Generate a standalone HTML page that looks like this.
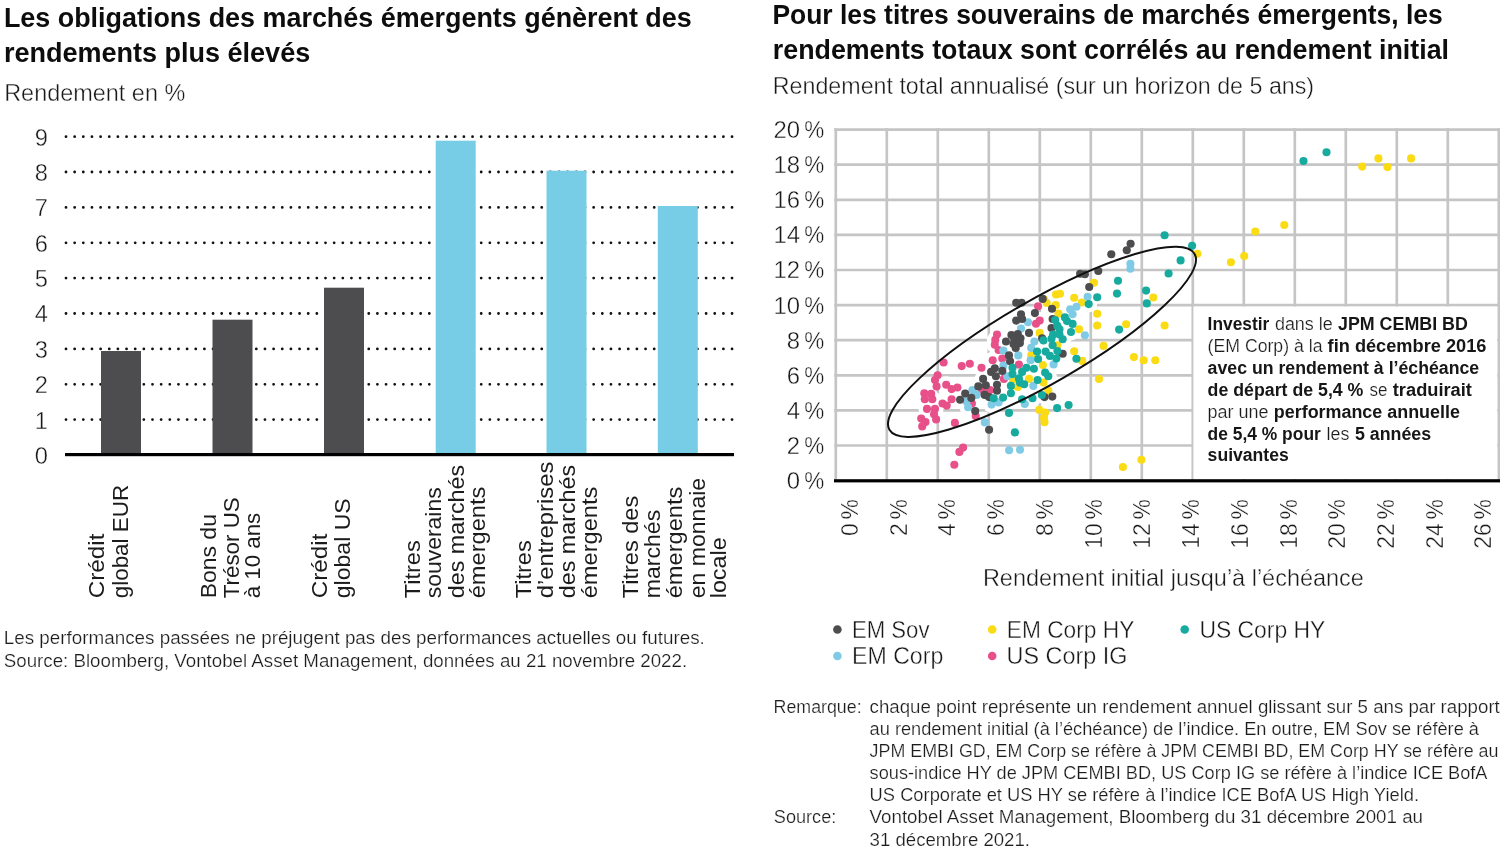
<!DOCTYPE html>
<html lang="fr"><head><meta charset="utf-8"><title>Obligations des marchés émergents</title>
<style>
html,body{margin:0;padding:0;background:#fff;}
body{width:1500px;height:860px;overflow:hidden;font-family:"Liberation Sans",sans-serif;}
svg{display:block}
text{font-family:"Liberation Sans",sans-serif;fill:#1a1a1a}
.t{font-weight:bold;font-size:27.1px;fill:#0d0d0d}
.t2{font-weight:bold;font-size:27.4px;fill:#0d0d0d}
.s{font-size:23.25px;fill:#2b2b2b}
.ax{font-size:23.9px;fill:#222}
.s2{font-size:23.2px;fill:#2b2b2b}
.ay{font-size:23.7px;fill:#222}
.rl{font-size:21.3px;fill:#1c1c1c}
.ft{font-size:17.85px;fill:#2e2e2e}
.an{font-size:18px;fill:#1a1a1a}
.b{font-weight:bold}
.xl{font-size:24.1px;fill:#222}
.lg{font-size:23.8px;fill:#222}
.s,.s2,.ax,.ay,.xl,.lg{stroke:#fff;stroke-width:.38px;fill:#181818}
.ft,.an{stroke:#fff;stroke-width:.22px;fill:#1c1c1c}
.an.b{stroke:none;fill:#161616}
</style></head><body>
<svg width="1500" height="860" viewBox="0 0 1500 860">
<rect width="1500" height="860" fill="#fff"/>

<text x="3.9" y="26.6" class="t" textLength="687.8" lengthAdjust="spacingAndGlyphs">Les obligations des marchés émergents génèrent des</text>
<text x="3.9" y="62.4" class="t" textLength="306.3" lengthAdjust="spacingAndGlyphs">rendements plus élevés</text>
<text x="4.2" y="101.2" class="s" textLength="181.1" lengthAdjust="spacingAndGlyphs">Rendement en %</text>
<text x="48" y="463.9" class="ay" text-anchor="end">0</text>
<text x="48" y="428.5" class="ay" text-anchor="end">1</text>
<line x1="66" x2="734" y1="419.6" y2="419.6" stroke="#111" stroke-width="2.8" stroke-linecap="round" stroke-dasharray="0 8.65"/>
<text x="48" y="393.2" class="ay" text-anchor="end">2</text>
<line x1="66" x2="734" y1="384.3" y2="384.3" stroke="#111" stroke-width="2.8" stroke-linecap="round" stroke-dasharray="0 8.65"/>
<text x="48" y="357.8" class="ay" text-anchor="end">3</text>
<line x1="66" x2="734" y1="348.9" y2="348.9" stroke="#111" stroke-width="2.8" stroke-linecap="round" stroke-dasharray="0 8.65"/>
<text x="48" y="322.4" class="ay" text-anchor="end">4</text>
<line x1="66" x2="734" y1="313.5" y2="313.5" stroke="#111" stroke-width="2.8" stroke-linecap="round" stroke-dasharray="0 8.65"/>
<text x="48" y="287.0" class="ay" text-anchor="end">5</text>
<line x1="66" x2="734" y1="278.1" y2="278.1" stroke="#111" stroke-width="2.8" stroke-linecap="round" stroke-dasharray="0 8.65"/>
<text x="48" y="251.7" class="ay" text-anchor="end">6</text>
<line x1="66" x2="734" y1="242.8" y2="242.8" stroke="#111" stroke-width="2.8" stroke-linecap="round" stroke-dasharray="0 8.65"/>
<text x="48" y="216.3" class="ay" text-anchor="end">7</text>
<line x1="66" x2="734" y1="207.4" y2="207.4" stroke="#111" stroke-width="2.8" stroke-linecap="round" stroke-dasharray="0 8.65"/>
<text x="48" y="180.9" class="ay" text-anchor="end">8</text>
<line x1="66" x2="734" y1="172.0" y2="172.0" stroke="#111" stroke-width="2.8" stroke-linecap="round" stroke-dasharray="0 8.65"/>
<text x="48" y="145.6" class="ay" text-anchor="end">9</text>
<line x1="66" x2="734" y1="136.7" y2="136.7" stroke="#111" stroke-width="2.8" stroke-linecap="round" stroke-dasharray="0 8.65"/>
<rect x="101" y="351" width="40" height="104.0" fill="#4d4d4f"/>
<rect x="212.5" y="319.7" width="40" height="135.3" fill="#4d4d4f"/>
<rect x="324" y="287.7" width="40" height="167.3" fill="#4d4d4f"/>
<rect x="435.7" y="140.7" width="40" height="314.3" fill="#78cde6"/>
<rect x="546.5" y="170.7" width="40" height="284.3" fill="#78cde6"/>
<rect x="657.8" y="206" width="40" height="249.0" fill="#78cde6"/>
<rect x="65" y="453" width="669" height="3.2" fill="#000"/>
<text class="rl" transform="translate(103.7,598.3) rotate(-90)" textLength="64.7" lengthAdjust="spacingAndGlyphs">Crédit</text>
<text class="rl" transform="translate(127.5,598.3) rotate(-90)" textLength="113.5" lengthAdjust="spacingAndGlyphs">global EUR</text>
<text class="rl" transform="translate(215.5,598.3) rotate(-90)" textLength="84.2" lengthAdjust="spacingAndGlyphs">Bons du</text>
<text class="rl" transform="translate(238.7,598.3) rotate(-90)" textLength="101.0" lengthAdjust="spacingAndGlyphs">Trésor US</text>
<text class="rl" transform="translate(260,598.3) rotate(-90)" textLength="85.5" lengthAdjust="spacingAndGlyphs">à 10 ans</text>
<text class="rl" transform="translate(326.5,598.3) rotate(-90)" textLength="64.7" lengthAdjust="spacingAndGlyphs">Crédit</text>
<text class="rl" transform="translate(350,598.3) rotate(-90)" textLength="100.0" lengthAdjust="spacingAndGlyphs">global US</text>
<text class="rl" transform="translate(419.5,598.3) rotate(-90)" textLength="58.0" lengthAdjust="spacingAndGlyphs">Titres</text>
<text class="rl" transform="translate(441,598.3) rotate(-90)" textLength="111.0" lengthAdjust="spacingAndGlyphs">souverains</text>
<text class="rl" transform="translate(463.7,598.3) rotate(-90)" textLength="133.5" lengthAdjust="spacingAndGlyphs">des marchés</text>
<text class="rl" transform="translate(485,598.3) rotate(-90)" textLength="111.7" lengthAdjust="spacingAndGlyphs">émergents</text>
<text class="rl" transform="translate(531.2,598.3) rotate(-90)" textLength="58.0" lengthAdjust="spacingAndGlyphs">Titres</text>
<text class="rl" transform="translate(553,598.3) rotate(-90)" textLength="136.7" lengthAdjust="spacingAndGlyphs">d’entreprises</text>
<text class="rl" transform="translate(575,598.3) rotate(-90)" textLength="133.5" lengthAdjust="spacingAndGlyphs">des marchés</text>
<text class="rl" transform="translate(596.7,598.3) rotate(-90)" textLength="111.7" lengthAdjust="spacingAndGlyphs">émergents</text>
<text class="rl" transform="translate(638.2,598.3) rotate(-90)" textLength="102.5" lengthAdjust="spacingAndGlyphs">Titres des</text>
<text class="rl" transform="translate(660,598.3) rotate(-90)" textLength="88.5" lengthAdjust="spacingAndGlyphs">marchés</text>
<text class="rl" transform="translate(682,598.3) rotate(-90)" textLength="111.7" lengthAdjust="spacingAndGlyphs">émergents</text>
<text class="rl" transform="translate(705,598.3) rotate(-90)" textLength="120.5" lengthAdjust="spacingAndGlyphs">en monnaie</text>
<text class="rl" transform="translate(726.2,598.3) rotate(-90)" textLength="61.0" lengthAdjust="spacingAndGlyphs">locale</text>
<text x="3.8" y="644.4" class="ft" textLength="701.0" lengthAdjust="spacingAndGlyphs">Les performances passées ne préjugent pas des performances actuelles ou futures.</text>
<text x="3.8" y="667.1" class="ft" textLength="683.3" lengthAdjust="spacingAndGlyphs">Source: Bloomberg, Vontobel Asset Management, données au 21 novembre 2022.</text>
<text x="772.4" y="23.6" class="t2" textLength="670.4" lengthAdjust="spacingAndGlyphs">Pour les titres souverains de marchés émergents, les</text>
<text x="772.8" y="58.5" class="t2" textLength="676.2" lengthAdjust="spacingAndGlyphs">rendements totaux sont corrélés au rendement initial</text>
<text x="772.8" y="93.8" class="s" textLength="541.3" lengthAdjust="spacingAndGlyphs">Rendement total annualisé (sur un horizon de 5 ans)</text>
<line x1="835.8" x2="835.8" y1="128.2" y2="481" stroke="#c5c5c5" stroke-width="2.7"/>
<line x1="886.8" x2="886.8" y1="128.2" y2="481" stroke="#c5c5c5" stroke-width="2.7"/>
<line x1="937.8" x2="937.8" y1="128.2" y2="481" stroke="#c5c5c5" stroke-width="2.7"/>
<line x1="988.8" x2="988.8" y1="128.2" y2="481" stroke="#c5c5c5" stroke-width="2.7"/>
<line x1="1039.8" x2="1039.8" y1="128.2" y2="481" stroke="#c5c5c5" stroke-width="2.7"/>
<line x1="1090.8" x2="1090.8" y1="128.2" y2="481" stroke="#c5c5c5" stroke-width="2.7"/>
<line x1="1141.8" x2="1141.8" y1="128.2" y2="481" stroke="#c5c5c5" stroke-width="2.7"/>
<line x1="1192.8" x2="1192.8" y1="128.2" y2="481" stroke="#c5c5c5" stroke-width="2.7"/>
<line x1="1243.8" x2="1243.8" y1="128.2" y2="481" stroke="#c5c5c5" stroke-width="2.7"/>
<line x1="1294.8" x2="1294.8" y1="128.2" y2="481" stroke="#c5c5c5" stroke-width="2.7"/>
<line x1="1345.8" x2="1345.8" y1="128.2" y2="481" stroke="#c5c5c5" stroke-width="2.7"/>
<line x1="1396.8" x2="1396.8" y1="128.2" y2="481" stroke="#c5c5c5" stroke-width="2.7"/>
<line x1="1447.8" x2="1447.8" y1="128.2" y2="481" stroke="#c5c5c5" stroke-width="2.7"/>
<line x1="1498.8" x2="1498.8" y1="128.2" y2="481" stroke="#c5c5c5" stroke-width="2.7"/>
<line x1="834.2" x2="1500" y1="129.6" y2="129.6" stroke="#c5c5c5" stroke-width="2.7"/>
<line x1="834.2" x2="1500" y1="164.7" y2="164.7" stroke="#c5c5c5" stroke-width="2.7"/>
<line x1="834.2" x2="1500" y1="199.8" y2="199.8" stroke="#c5c5c5" stroke-width="2.7"/>
<line x1="834.2" x2="1500" y1="234.9" y2="234.9" stroke="#c5c5c5" stroke-width="2.7"/>
<line x1="834.2" x2="1500" y1="270.0" y2="270.0" stroke="#c5c5c5" stroke-width="2.7"/>
<line x1="834.2" x2="1500" y1="305.1" y2="305.1" stroke="#c5c5c5" stroke-width="2.7"/>
<line x1="834.2" x2="1500" y1="340.2" y2="340.2" stroke="#c5c5c5" stroke-width="2.7"/>
<line x1="834.2" x2="1500" y1="375.3" y2="375.3" stroke="#c5c5c5" stroke-width="2.7"/>
<line x1="834.2" x2="1500" y1="410.4" y2="410.4" stroke="#c5c5c5" stroke-width="2.7"/>
<line x1="834.2" x2="1500" y1="445.5" y2="445.5" stroke="#c5c5c5" stroke-width="2.7"/>
<text class="ax" x="800" y="138.0" text-anchor="end">20</text><text class="ax" x="804.3" y="138.0" textLength="20" lengthAdjust="spacingAndGlyphs">%</text>
<text class="ax" x="800" y="173.1" text-anchor="end">18</text><text class="ax" x="804.3" y="173.1" textLength="20" lengthAdjust="spacingAndGlyphs">%</text>
<text class="ax" x="800" y="208.2" text-anchor="end">16</text><text class="ax" x="804.3" y="208.2" textLength="20" lengthAdjust="spacingAndGlyphs">%</text>
<text class="ax" x="800" y="243.3" text-anchor="end">14</text><text class="ax" x="804.3" y="243.3" textLength="20" lengthAdjust="spacingAndGlyphs">%</text>
<text class="ax" x="800" y="278.4" text-anchor="end">12</text><text class="ax" x="804.3" y="278.4" textLength="20" lengthAdjust="spacingAndGlyphs">%</text>
<text class="ax" x="800" y="313.5" text-anchor="end">10</text><text class="ax" x="804.3" y="313.5" textLength="20" lengthAdjust="spacingAndGlyphs">%</text>
<text class="ax" x="800" y="348.6" text-anchor="end">8</text><text class="ax" x="804.3" y="348.6" textLength="20" lengthAdjust="spacingAndGlyphs">%</text>
<text class="ax" x="800" y="383.7" text-anchor="end">6</text><text class="ax" x="804.3" y="383.7" textLength="20" lengthAdjust="spacingAndGlyphs">%</text>
<text class="ax" x="800" y="418.8" text-anchor="end">4</text><text class="ax" x="804.3" y="418.8" textLength="20" lengthAdjust="spacingAndGlyphs">%</text>
<text class="ax" x="800" y="453.9" text-anchor="end">2</text><text class="ax" x="804.3" y="453.9" textLength="20" lengthAdjust="spacingAndGlyphs">%</text>
<text class="ax" x="800" y="489.0" text-anchor="end">0</text><text class="ax" x="804.3" y="489.0" textLength="20" lengthAdjust="spacingAndGlyphs">%</text>
<rect x="1193.4" y="306.6" width="303.8" height="172.7" fill="#fff"/>
<g fill="#fff">
<circle cx="925.5" cy="422.1" r="8.5"/>
<circle cx="1039.7" cy="320.6" r="8.5"/>
<circle cx="1036.0" cy="323.8" r="8.5"/>
<circle cx="995.3" cy="339.9" r="8.5"/>
<circle cx="994.8" cy="344.7" r="8.5"/>
<circle cx="992.7" cy="360.2" r="8.5"/>
<circle cx="1002.3" cy="358.6" r="8.5"/>
<circle cx="1018.9" cy="364.5" r="8.5"/>
<circle cx="1003.9" cy="378.9" r="8.5"/>
<circle cx="998.6" cy="350.0" r="8.5"/>
<circle cx="990.0" cy="390.1" r="8.5"/>
<circle cx="946.2" cy="384.8" r="8.5"/>
<circle cx="957.4" cy="387.5" r="8.5"/>
<circle cx="932.3" cy="399.2" r="8.5"/>
<circle cx="951.6" cy="399.2" r="8.5"/>
<circle cx="927.0" cy="408.9" r="8.5"/>
<circle cx="935.0" cy="408.9" r="8.5"/>
<circle cx="981.5" cy="367.7" r="8.5"/>
<circle cx="971.9" cy="403.5" r="8.5"/>
<circle cx="982.0" cy="390.7" r="8.5"/>
<circle cx="1052.0" cy="308.8" r="8.5"/>
<circle cx="1021.0" cy="314.2" r="8.5"/>
<circle cx="1016.2" cy="320.6" r="8.5"/>
<circle cx="1029.0" cy="332.9" r="8.5"/>
<circle cx="1011.4" cy="335.0" r="8.5"/>
<circle cx="1017.8" cy="334.0" r="8.5"/>
<circle cx="1020.5" cy="338.2" r="8.5"/>
<circle cx="1006.0" cy="341.5" r="8.5"/>
<circle cx="1052.6" cy="319.0" r="8.5"/>
<circle cx="1051.5" cy="328.1" r="8.5"/>
<circle cx="1042.1" cy="338.2" r="8.5"/>
<circle cx="1013.5" cy="344.1" r="8.5"/>
<circle cx="1019.9" cy="343.1" r="8.5"/>
<circle cx="1015.7" cy="347.9" r="8.5"/>
<circle cx="1009.0" cy="355.4" r="8.5"/>
<circle cx="1010.1" cy="361.3" r="8.5"/>
<circle cx="1062.7" cy="353.8" r="8.5"/>
<circle cx="994.8" cy="368.2" r="8.5"/>
<circle cx="1002.3" cy="370.9" r="8.5"/>
<circle cx="995.9" cy="376.2" r="8.5"/>
<circle cx="997.0" cy="384.8" r="8.5"/>
<circle cx="991.1" cy="371.9" r="8.5"/>
<circle cx="997.0" cy="390.7" r="8.5"/>
<circle cx="965.2" cy="393.6" r="8.5"/>
<circle cx="971.3" cy="397.9" r="8.5"/>
<circle cx="960.1" cy="399.8" r="8.5"/>
<circle cx="983.1" cy="378.9" r="8.5"/>
<circle cx="978.3" cy="386.4" r="8.5"/>
<circle cx="985.8" cy="385.3" r="8.5"/>
<circle cx="984.7" cy="394.9" r="8.5"/>
<circle cx="989.0" cy="397.1" r="8.5"/>
<circle cx="1014.1" cy="338.8" r="8.5"/>
<circle cx="1087.6" cy="296.7" r="8.5"/>
<circle cx="1076.4" cy="306.8" r="8.5"/>
<circle cx="1072.6" cy="314.3" r="8.5"/>
<circle cx="1070.2" cy="309.3" r="8.5"/>
<circle cx="1028.0" cy="322.2" r="8.5"/>
<circle cx="1021.0" cy="328.6" r="8.5"/>
<circle cx="1034.4" cy="341.5" r="8.5"/>
<circle cx="1003.4" cy="350.6" r="8.5"/>
<circle cx="1018.3" cy="355.4" r="8.5"/>
<circle cx="1031.2" cy="347.9" r="8.5"/>
<circle cx="1030.6" cy="360.2" r="8.5"/>
<circle cx="1003.4" cy="365.5" r="8.5"/>
<circle cx="1053.6" cy="364.5" r="8.5"/>
<circle cx="1033.3" cy="385.9" r="8.5"/>
<circle cx="1007.1" cy="376.2" r="8.5"/>
<circle cx="998.6" cy="402.4" r="8.5"/>
<circle cx="991.6" cy="404.6" r="8.5"/>
<circle cx="972.4" cy="390.1" r="8.5"/>
<circle cx="976.7" cy="394.9" r="8.5"/>
<circle cx="966.5" cy="401.4" r="8.5"/>
<circle cx="968.1" cy="407.2" r="8.5"/>
<circle cx="1088.7" cy="304.1" r="8.5"/>
<circle cx="1072.6" cy="323.9" r="8.5"/>
<circle cx="1071.0" cy="332.0" r="8.5"/>
<circle cx="1055.2" cy="320.1" r="8.5"/>
<circle cx="1064.9" cy="317.4" r="8.5"/>
<circle cx="1067.0" cy="321.1" r="8.5"/>
<circle cx="1057.4" cy="325.9" r="8.5"/>
<circle cx="1059.5" cy="329.2" r="8.5"/>
<circle cx="1053.1" cy="334.5" r="8.5"/>
<circle cx="1059.5" cy="334.5" r="8.5"/>
<circle cx="1043.5" cy="340.4" r="8.5"/>
<circle cx="1062.7" cy="339.3" r="8.5"/>
<circle cx="1051.5" cy="338.8" r="8.5"/>
<circle cx="1052.6" cy="345.2" r="8.5"/>
<circle cx="1037.1" cy="351.6" r="8.5"/>
<circle cx="1045.6" cy="351.6" r="8.5"/>
<circle cx="1057.4" cy="351.1" r="8.5"/>
<circle cx="1038.1" cy="359.1" r="8.5"/>
<circle cx="1049.9" cy="355.9" r="8.5"/>
<circle cx="1056.3" cy="358.6" r="8.5"/>
<circle cx="1012.5" cy="367.7" r="8.5"/>
<circle cx="1026.4" cy="367.7" r="8.5"/>
<circle cx="1022.1" cy="371.9" r="8.5"/>
<circle cx="1012.5" cy="374.1" r="8.5"/>
<circle cx="1033.9" cy="368.7" r="8.5"/>
<circle cx="1045.1" cy="372.5" r="8.5"/>
<circle cx="1048.3" cy="376.2" r="8.5"/>
<circle cx="1037.6" cy="380.0" r="8.5"/>
<circle cx="1018.9" cy="378.4" r="8.5"/>
<circle cx="1019.9" cy="382.6" r="8.5"/>
<circle cx="1024.2" cy="384.2" r="8.5"/>
<circle cx="1010.9" cy="385.9" r="8.5"/>
<circle cx="993.7" cy="398.2" r="8.5"/>
<circle cx="1003.1" cy="397.6" r="8.5"/>
<circle cx="1032.5" cy="398.2" r="8.5"/>
<circle cx="1041.9" cy="395.0" r="8.5"/>
<circle cx="1081.7" cy="302.5" r="8.5"/>
<circle cx="1046.7" cy="303.0" r="8.5"/>
<circle cx="1055.8" cy="305.1" r="8.5"/>
<circle cx="1058.4" cy="313.6" r="8.5"/>
<circle cx="1039.7" cy="332.9" r="8.5"/>
<circle cx="1044.0" cy="299.2" r="8.5"/>
<circle cx="1031.2" cy="355.4" r="8.5"/>
<circle cx="1042.9" cy="365.0" r="8.5"/>
<circle cx="1029.0" cy="378.9" r="8.5"/>
<circle cx="1043.5" cy="382.6" r="8.5"/>
<circle cx="1057.4" cy="345.2" r="8.5"/>
<circle cx="1013.0" cy="379.4" r="8.5"/>
<circle cx="1017.8" cy="386.9" r="8.5"/>
</g>
<g fill="#fadb14">
<circle cx="1103.6" cy="345.9" r="4.05"/>
<circle cx="1074.2" cy="351.2" r="4.05"/>
<circle cx="1082.2" cy="360.9" r="4.05"/>
<circle cx="1133.9" cy="357.1" r="4.05"/>
<circle cx="1143.7" cy="360.3" r="4.05"/>
<circle cx="1155.3" cy="360.3" r="4.05"/>
<circle cx="1099.0" cy="379.0" r="4.05"/>
<circle cx="1056.0" cy="294.5" r="4.05"/>
<circle cx="1094.0" cy="282.8" r="4.05"/>
<circle cx="1074.2" cy="297.7" r="4.05"/>
<circle cx="1081.7" cy="302.5" r="4.05"/>
<circle cx="1097.2" cy="313.8" r="4.05"/>
<circle cx="1097.2" cy="325.5" r="4.05"/>
<circle cx="1079.0" cy="329.3" r="4.05"/>
<circle cx="1197.4" cy="253.7" r="4.05"/>
<circle cx="1153.3" cy="297.5" r="4.05"/>
<circle cx="1060.0" cy="293.8" r="4.05"/>
<circle cx="1362.2" cy="166.6" r="4.05"/>
<circle cx="1378.4" cy="158.4" r="4.05"/>
<circle cx="1387.5" cy="167.1" r="4.05"/>
<circle cx="1411.1" cy="158.4" r="4.05"/>
<circle cx="1284.3" cy="225.0" r="4.05"/>
<circle cx="1255.3" cy="231.5" r="4.05"/>
<circle cx="1244.2" cy="256.1" r="4.05"/>
<circle cx="1230.9" cy="262.2" r="4.05"/>
<circle cx="1126.1" cy="324.2" r="4.05"/>
<circle cx="1164.6" cy="325.5" r="4.05"/>
<circle cx="1122.9" cy="467.1" r="4.05"/>
<circle cx="1141.4" cy="459.7" r="4.05"/>
<circle cx="1046.7" cy="303.0" r="4.05"/>
<circle cx="1055.8" cy="305.1" r="4.05"/>
<circle cx="1058.4" cy="313.6" r="4.05"/>
<circle cx="1039.7" cy="332.9" r="4.05"/>
<circle cx="1044.0" cy="299.2" r="4.05"/>
<circle cx="1031.2" cy="355.4" r="4.05"/>
<circle cx="1042.9" cy="365.0" r="4.05"/>
<circle cx="1029.0" cy="378.9" r="4.05"/>
<circle cx="1043.5" cy="382.6" r="4.05"/>
<circle cx="1057.4" cy="345.2" r="4.05"/>
<circle cx="1013.0" cy="379.4" r="4.05"/>
<circle cx="1017.8" cy="386.9" r="4.05"/>
<circle cx="1048.3" cy="390.7" r="4.05"/>
<circle cx="1039.2" cy="409.9" r="4.05"/>
<circle cx="1045.1" cy="412.6" r="4.05"/>
<circle cx="1044.0" cy="417.9" r="4.05"/>
<circle cx="1044.5" cy="422.2" r="4.05"/>
</g>
<g fill="#e8508a">
<circle cx="943.6" cy="362.5" r="4.05"/>
<circle cx="969.8" cy="363.7" r="4.05"/>
<circle cx="934.0" cy="414.3" r="4.05"/>
<circle cx="921.2" cy="418.6" r="4.05"/>
<circle cx="925.5" cy="422.1" r="4.05"/>
<circle cx="936.1" cy="419.4" r="4.05"/>
<circle cx="922.2" cy="426.4" r="4.05"/>
<circle cx="954.9" cy="422.9" r="4.05"/>
<circle cx="975.7" cy="416.1" r="4.05"/>
<circle cx="963.1" cy="447.6" r="4.05"/>
<circle cx="959.4" cy="451.9" r="4.05"/>
<circle cx="954.3" cy="464.7" r="4.05"/>
<circle cx="1038.1" cy="306.2" r="4.05"/>
<circle cx="1039.7" cy="320.6" r="4.05"/>
<circle cx="1036.0" cy="323.8" r="4.05"/>
<circle cx="997.0" cy="334.5" r="4.05"/>
<circle cx="995.3" cy="339.9" r="4.05"/>
<circle cx="994.8" cy="344.7" r="4.05"/>
<circle cx="992.7" cy="360.2" r="4.05"/>
<circle cx="1002.3" cy="358.6" r="4.05"/>
<circle cx="1018.9" cy="364.5" r="4.05"/>
<circle cx="1003.9" cy="378.9" r="4.05"/>
<circle cx="998.6" cy="350.0" r="4.05"/>
<circle cx="990.0" cy="390.1" r="4.05"/>
<circle cx="937.6" cy="375.2" r="4.05"/>
<circle cx="935.0" cy="380.0" r="4.05"/>
<circle cx="936.6" cy="386.4" r="4.05"/>
<circle cx="946.2" cy="384.8" r="4.05"/>
<circle cx="951.6" cy="389.1" r="4.05"/>
<circle cx="957.4" cy="387.5" r="4.05"/>
<circle cx="924.3" cy="393.3" r="4.05"/>
<circle cx="931.2" cy="393.9" r="4.05"/>
<circle cx="924.8" cy="399.2" r="4.05"/>
<circle cx="932.3" cy="399.2" r="4.05"/>
<circle cx="951.6" cy="399.2" r="4.05"/>
<circle cx="942.5" cy="403.5" r="4.05"/>
<circle cx="946.7" cy="405.6" r="4.05"/>
<circle cx="927.0" cy="408.9" r="4.05"/>
<circle cx="935.0" cy="408.9" r="4.05"/>
<circle cx="961.7" cy="366.1" r="4.05"/>
<circle cx="981.5" cy="367.7" r="4.05"/>
<circle cx="971.9" cy="403.5" r="4.05"/>
<circle cx="982.0" cy="390.7" r="4.05"/>
</g>
<g fill="#7fcbe6">
<circle cx="984.8" cy="422.4" r="4.05"/>
<circle cx="1087.6" cy="296.7" r="4.05"/>
<circle cx="1076.4" cy="306.8" r="4.05"/>
<circle cx="1072.6" cy="314.3" r="4.05"/>
<circle cx="1084.9" cy="335.2" r="4.05"/>
<circle cx="1130.4" cy="263.9" r="4.05"/>
<circle cx="1130.4" cy="268.7" r="4.05"/>
<circle cx="1070.2" cy="309.3" r="4.05"/>
<circle cx="1009.1" cy="450.3" r="4.05"/>
<circle cx="1020.0" cy="449.7" r="4.05"/>
<circle cx="1028.0" cy="322.2" r="4.05"/>
<circle cx="1021.0" cy="328.6" r="4.05"/>
<circle cx="1034.4" cy="341.5" r="4.05"/>
<circle cx="1003.4" cy="350.6" r="4.05"/>
<circle cx="1018.3" cy="355.4" r="4.05"/>
<circle cx="1031.2" cy="347.9" r="4.05"/>
<circle cx="1030.6" cy="360.2" r="4.05"/>
<circle cx="1003.4" cy="365.5" r="4.05"/>
<circle cx="1053.6" cy="364.5" r="4.05"/>
<circle cx="1033.3" cy="385.9" r="4.05"/>
<circle cx="1007.1" cy="376.2" r="4.05"/>
<circle cx="1024.8" cy="404.0" r="4.05"/>
<circle cx="998.6" cy="402.4" r="4.05"/>
<circle cx="991.6" cy="404.6" r="4.05"/>
<circle cx="972.4" cy="390.1" r="4.05"/>
<circle cx="976.7" cy="394.9" r="4.05"/>
<circle cx="966.5" cy="401.4" r="4.05"/>
<circle cx="968.1" cy="407.2" r="4.05"/>
</g>
<g fill="#4d4d4f">
<circle cx="975.2" cy="411.1" r="4.05"/>
<circle cx="989.1" cy="429.8" r="4.05"/>
<circle cx="1080.1" cy="273.7" r="4.05"/>
<circle cx="1084.9" cy="274.2" r="4.05"/>
<circle cx="1098.3" cy="271.0" r="4.05"/>
<circle cx="1089.2" cy="287.0" r="4.05"/>
<circle cx="1130.6" cy="243.7" r="4.05"/>
<circle cx="1126.8" cy="250.3" r="4.05"/>
<circle cx="1111.3" cy="254.2" r="4.05"/>
<circle cx="1016.2" cy="302.7" r="4.05"/>
<circle cx="1021.6" cy="302.7" r="4.05"/>
<circle cx="1042.7" cy="298.9" r="4.05"/>
<circle cx="1052.0" cy="308.8" r="4.05"/>
<circle cx="1034.9" cy="313.1" r="4.05"/>
<circle cx="1021.0" cy="314.2" r="4.05"/>
<circle cx="1016.2" cy="320.6" r="4.05"/>
<circle cx="1022.1" cy="319.0" r="4.05"/>
<circle cx="1029.0" cy="332.9" r="4.05"/>
<circle cx="1011.4" cy="335.0" r="4.05"/>
<circle cx="1017.8" cy="334.0" r="4.05"/>
<circle cx="1020.5" cy="338.2" r="4.05"/>
<circle cx="1006.0" cy="341.5" r="4.05"/>
<circle cx="1052.6" cy="319.0" r="4.05"/>
<circle cx="1051.5" cy="328.1" r="4.05"/>
<circle cx="1042.1" cy="338.2" r="4.05"/>
<circle cx="1013.5" cy="344.1" r="4.05"/>
<circle cx="1019.9" cy="343.1" r="4.05"/>
<circle cx="1015.7" cy="347.9" r="4.05"/>
<circle cx="1009.0" cy="355.4" r="4.05"/>
<circle cx="1010.1" cy="361.3" r="4.05"/>
<circle cx="1062.7" cy="353.8" r="4.05"/>
<circle cx="994.8" cy="368.2" r="4.05"/>
<circle cx="1002.3" cy="370.9" r="4.05"/>
<circle cx="995.9" cy="376.2" r="4.05"/>
<circle cx="997.0" cy="384.8" r="4.05"/>
<circle cx="991.1" cy="371.9" r="4.05"/>
<circle cx="997.0" cy="390.7" r="4.05"/>
<circle cx="1052.3" cy="396.6" r="4.05"/>
<circle cx="1044.5" cy="397.1" r="4.05"/>
<circle cx="965.2" cy="393.6" r="4.05"/>
<circle cx="971.3" cy="397.9" r="4.05"/>
<circle cx="960.1" cy="399.8" r="4.05"/>
<circle cx="983.1" cy="378.9" r="4.05"/>
<circle cx="978.3" cy="386.4" r="4.05"/>
<circle cx="985.8" cy="385.3" r="4.05"/>
<circle cx="984.7" cy="394.9" r="4.05"/>
<circle cx="989.0" cy="397.1" r="4.05"/>
<circle cx="1014.1" cy="338.8" r="4.05"/>
</g>
<g fill="#17ab9f">
<circle cx="1076.4" cy="358.7" r="4.05"/>
<circle cx="1097.2" cy="297.2" r="4.05"/>
<circle cx="1088.7" cy="304.1" r="4.05"/>
<circle cx="1072.6" cy="323.9" r="4.05"/>
<circle cx="1071.0" cy="332.0" r="4.05"/>
<circle cx="1164.6" cy="235.2" r="4.05"/>
<circle cx="1192.1" cy="245.7" r="4.05"/>
<circle cx="1180.6" cy="260.4" r="4.05"/>
<circle cx="1168.6" cy="273.5" r="4.05"/>
<circle cx="1118.0" cy="280.7" r="4.05"/>
<circle cx="1117.0" cy="293.6" r="4.05"/>
<circle cx="1146.1" cy="290.6" r="4.05"/>
<circle cx="1146.8" cy="303.4" r="4.05"/>
<circle cx="1303.5" cy="161.0" r="4.05"/>
<circle cx="1326.5" cy="152.3" r="4.05"/>
<circle cx="1119.1" cy="329.6" r="4.05"/>
<circle cx="1055.2" cy="320.1" r="4.05"/>
<circle cx="1064.9" cy="317.4" r="4.05"/>
<circle cx="1067.0" cy="321.1" r="4.05"/>
<circle cx="1057.4" cy="325.9" r="4.05"/>
<circle cx="1059.5" cy="329.2" r="4.05"/>
<circle cx="1053.1" cy="334.5" r="4.05"/>
<circle cx="1059.5" cy="334.5" r="4.05"/>
<circle cx="1043.5" cy="340.4" r="4.05"/>
<circle cx="1062.7" cy="339.3" r="4.05"/>
<circle cx="1051.5" cy="338.8" r="4.05"/>
<circle cx="1052.6" cy="345.2" r="4.05"/>
<circle cx="1037.1" cy="351.6" r="4.05"/>
<circle cx="1045.6" cy="351.6" r="4.05"/>
<circle cx="1057.4" cy="351.1" r="4.05"/>
<circle cx="1038.1" cy="359.1" r="4.05"/>
<circle cx="1049.9" cy="355.9" r="4.05"/>
<circle cx="1056.3" cy="358.6" r="4.05"/>
<circle cx="1012.5" cy="367.7" r="4.05"/>
<circle cx="1026.4" cy="367.7" r="4.05"/>
<circle cx="1022.1" cy="371.9" r="4.05"/>
<circle cx="1012.5" cy="374.1" r="4.05"/>
<circle cx="1033.9" cy="368.7" r="4.05"/>
<circle cx="1045.1" cy="372.5" r="4.05"/>
<circle cx="1048.3" cy="376.2" r="4.05"/>
<circle cx="1037.6" cy="380.0" r="4.05"/>
<circle cx="1018.9" cy="378.4" r="4.05"/>
<circle cx="1019.9" cy="382.6" r="4.05"/>
<circle cx="1024.2" cy="384.2" r="4.05"/>
<circle cx="1010.9" cy="385.9" r="4.05"/>
<circle cx="993.7" cy="398.2" r="4.05"/>
<circle cx="1003.1" cy="397.6" r="4.05"/>
<circle cx="1010.9" cy="393.3" r="4.05"/>
<circle cx="1022.1" cy="399.2" r="4.05"/>
<circle cx="1032.5" cy="398.2" r="4.05"/>
<circle cx="1041.9" cy="395.0" r="4.05"/>
<circle cx="1057.1" cy="408.1" r="4.05"/>
<circle cx="1068.6" cy="405.1" r="4.05"/>
<circle cx="1009.0" cy="412.9" r="4.05"/>
<circle cx="1014.9" cy="432.4" r="4.05"/>
</g>
<ellipse cx="1042" cy="341.8" rx="176.1" ry="41.8" transform="rotate(-29.95 1042 341.8)" fill="none" stroke="#111" stroke-width="2"/>
<rect x="834" y="479.2" width="666" height="3.2" fill="#000"/>
<text class="xl" transform="translate(858.0,499.2) rotate(-90) scale(0.95,1)" text-anchor="end">0<tspan dx="3.8">%</tspan></text>
<text class="xl" transform="translate(906.7,499.2) rotate(-90) scale(0.95,1)" text-anchor="end">2<tspan dx="3.8">%</tspan></text>
<text class="xl" transform="translate(955.4,499.2) rotate(-90) scale(0.95,1)" text-anchor="end">4<tspan dx="3.8">%</tspan></text>
<text class="xl" transform="translate(1004.2,499.2) rotate(-90) scale(0.95,1)" text-anchor="end">6<tspan dx="3.8">%</tspan></text>
<text class="xl" transform="translate(1052.9,499.2) rotate(-90) scale(0.95,1)" text-anchor="end">8<tspan dx="3.8">%</tspan></text>
<text class="xl" transform="translate(1101.6,499.2) rotate(-90) scale(0.95,1)" text-anchor="end">10<tspan dx="3.8">%</tspan></text>
<text class="xl" transform="translate(1150.3,499.2) rotate(-90) scale(0.95,1)" text-anchor="end">12<tspan dx="3.8">%</tspan></text>
<text class="xl" transform="translate(1199.0,499.2) rotate(-90) scale(0.95,1)" text-anchor="end">14<tspan dx="3.8">%</tspan></text>
<text class="xl" transform="translate(1247.8,499.2) rotate(-90) scale(0.95,1)" text-anchor="end">16<tspan dx="3.8">%</tspan></text>
<text class="xl" transform="translate(1296.5,499.2) rotate(-90) scale(0.95,1)" text-anchor="end">18<tspan dx="3.8">%</tspan></text>
<text class="xl" transform="translate(1345.2,499.2) rotate(-90) scale(0.95,1)" text-anchor="end">20<tspan dx="3.8">%</tspan></text>
<text class="xl" transform="translate(1393.9,499.2) rotate(-90) scale(0.95,1)" text-anchor="end">22<tspan dx="3.8">%</tspan></text>
<text class="xl" transform="translate(1442.6,499.2) rotate(-90) scale(0.95,1)" text-anchor="end">24<tspan dx="3.8">%</tspan></text>
<text class="xl" transform="translate(1491.4,499.2) rotate(-90) scale(0.95,1)" text-anchor="end">26<tspan dx="3.8">%</tspan></text>
<text x="982.9" y="585.8" class="s2" textLength="381.0" lengthAdjust="spacingAndGlyphs">Rendement initial jusqu’à l’échéance</text>
<circle cx="837.4" cy="629.5" r="4.3" fill="#4d4d4f"/>
<text x="852" y="638" class="lg" textLength="77.5" lengthAdjust="spacingAndGlyphs">EM Sov</text>
<circle cx="992.2" cy="629.5" r="4.3" fill="#fadb14"/>
<text x="1006.8" y="638" class="lg" textLength="127.5" lengthAdjust="spacingAndGlyphs">EM Corp HY</text>
<circle cx="1184.7" cy="629.5" r="4.3" fill="#17ab9f"/>
<text x="1199.4" y="638" class="lg" textLength="126.0" lengthAdjust="spacingAndGlyphs">US Corp HY</text>
<circle cx="837.4" cy="656" r="4.3" fill="#7fcbe6"/>
<text x="852" y="664.1" class="lg" textLength="91.3" lengthAdjust="spacingAndGlyphs">EM Corp</text>
<circle cx="992.2" cy="656" r="4.3" fill="#e8508a"/>
<text x="1006.6" y="664.1" class="lg" textLength="120.8" lengthAdjust="spacingAndGlyphs">US Corp IG</text>
<text x="1207.6" y="330.3" class="an b" textLength="61.7" lengthAdjust="spacingAndGlyphs">Investir</text>
<text x="1274.9" y="330.3" class="an" textLength="57.9" lengthAdjust="spacingAndGlyphs">dans le</text>
<text x="1338" y="330.3" class="an b" textLength="129.8" lengthAdjust="spacingAndGlyphs">JPM CEMBI BD</text>
<text x="1207.6" y="352.1" class="an" textLength="114.9" lengthAdjust="spacingAndGlyphs">(EM Corp) à la</text>
<text x="1327.6" y="352.1" class="an b" textLength="158.8" lengthAdjust="spacingAndGlyphs">fin décembre 2016</text>
<text x="1207.6" y="373.9" class="an b" textLength="271.6" lengthAdjust="spacingAndGlyphs">avec un rendement à l’échéance</text>
<text x="1207.6" y="395.8" class="an b" textLength="155.8" lengthAdjust="spacingAndGlyphs">de départ de 5,4 %</text>
<text x="1369.6" y="395.8" class="an" textLength="18.0" lengthAdjust="spacingAndGlyphs">se</text>
<text x="1392.8" y="395.8" class="an b" textLength="79.1" lengthAdjust="spacingAndGlyphs">traduirait</text>
<text x="1207.6" y="417.7" class="an" textLength="61.0" lengthAdjust="spacingAndGlyphs">par une</text>
<text x="1273.8" y="417.7" class="an b" textLength="186.1" lengthAdjust="spacingAndGlyphs">performance annuelle</text>
<text x="1207.6" y="439.5" class="an b" textLength="113.2" lengthAdjust="spacingAndGlyphs">de 5,4 % pour</text>
<text x="1326.6" y="439.5" class="an" textLength="22.8" lengthAdjust="spacingAndGlyphs">les</text>
<text x="1354.9" y="439.5" class="an b" textLength="76.3" lengthAdjust="spacingAndGlyphs">5 années</text>
<text x="1207.6" y="461.2" class="an b" textLength="81.2" lengthAdjust="spacingAndGlyphs">suivantes</text>
<text x="773.6" y="712.6" class="ft" textLength="88.0" lengthAdjust="spacingAndGlyphs">Remarque:</text>
<text x="773.8" y="823.4" class="ft" textLength="62.5" lengthAdjust="spacingAndGlyphs">Source:</text>
<text x="869.6" y="712.6" class="ft" textLength="630.2" lengthAdjust="spacingAndGlyphs">chaque point représente un rendement annuel glissant sur 5 ans par rapport</text>
<text x="869.6" y="734.8" class="ft" textLength="609.4" lengthAdjust="spacingAndGlyphs">au rendement initial (à l’échéance) de l’indice. En outre, EM Sov se réfère à</text>
<text x="869.6" y="756.9" class="ft" textLength="628.9" lengthAdjust="spacingAndGlyphs">JPM EMBI GD, EM Corp se réfère à JPM CEMBI BD, EM Corp HY se réfère au</text>
<text x="869.6" y="779.0" class="ft" textLength="617.9" lengthAdjust="spacingAndGlyphs">sous-indice HY de JPM CEMBI BD, US Corp IG se réfère à l’indice ICE BofA</text>
<text x="869.6" y="801.2" class="ft" textLength="549.4" lengthAdjust="spacingAndGlyphs">US Corporate et US HY se réfère à l’indice ICE BofA US High Yield.</text>
<text x="869.6" y="823.4" class="ft" textLength="553.4" lengthAdjust="spacingAndGlyphs">Vontobel Asset Management, Bloomberg du 31 décembre 2001 au</text>
<text x="869.6" y="845.5" class="ft" textLength="160.4" lengthAdjust="spacingAndGlyphs">31 décembre 2021.</text>
</svg></body></html>
